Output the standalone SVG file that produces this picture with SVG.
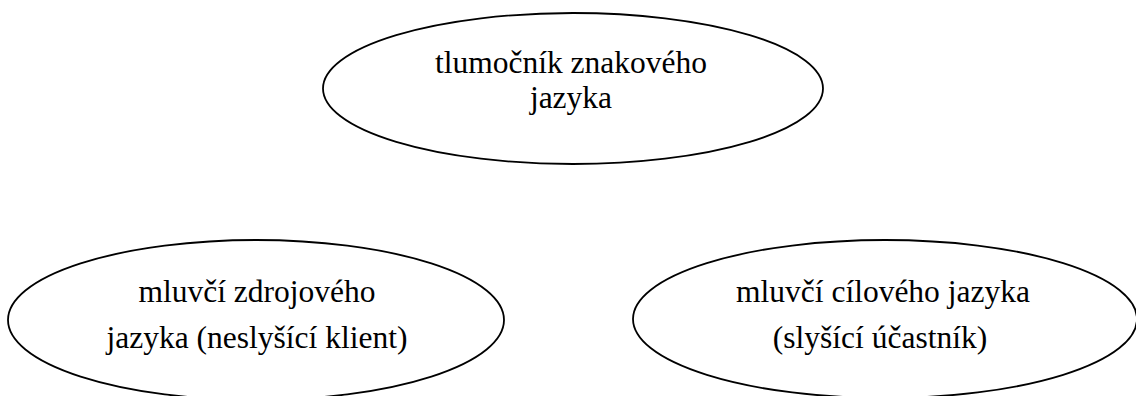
<svg xmlns="http://www.w3.org/2000/svg" width="1136" height="396" viewBox="0 0 1136 396">
<style>
.n ellipse{fill:#fff;stroke:#000;stroke-width:1.8}
.n text{font-family:"Liberation Serif","Times New Roman",serif;font-size:31.5px;fill:#000;text-anchor:middle}
</style>
<rect width="1136" height="396" fill="#fff"/>
<g id="connectors"></g>
<g id="tlumocnik" class="n">
<ellipse cx="573" cy="88.5" rx="250" ry="75.5"/>
<text x="571" y="73">tlumočník znakového</text>
<text x="571" y="108">jazyka</text>
</g>
<g id="zdroj" class="n">
<ellipse cx="256" cy="320" rx="248" ry="80"/>
<text x="257" y="302">mluvčí zdrojového</text>
<text x="257" y="348">jazyka (neslyšící klient)</text>
</g>
<g id="cil" class="n">
<ellipse cx="885" cy="319" rx="252" ry="79"/>
<text x="883" y="302">mluvčí cílového jazyka</text>
<text x="880" y="348">(slyšící účastník)</text>
</g>
</svg>
